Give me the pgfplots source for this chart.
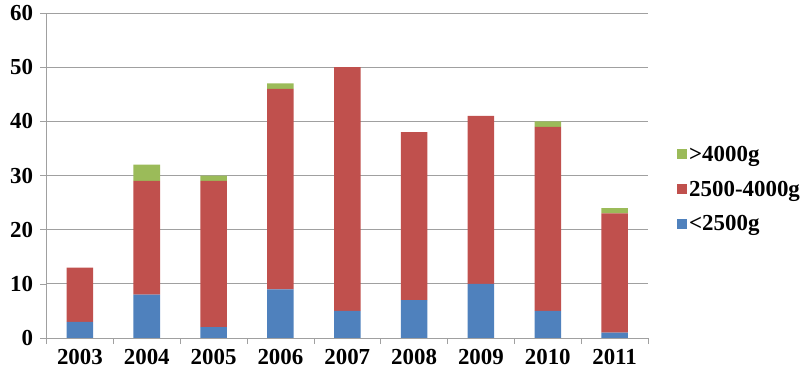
\documentclass[border=0pt]{standalone}
\usepackage{pgfplots}
\pgfplotsset{compat=1.18}
\usepackage{fontspec}
\setmainfont{Liberation Serif}
\definecolor{cblue}{HTML}{4F81BD}
\definecolor{cred}{HTML}{C0504D}
\definecolor{cgreen}{HTML}{9BBB59}
\definecolor{cgrid}{HTML}{A0A0A0}
\begin{document}
\begin{tikzpicture}
\begin{axis}[
  scale only axis,
  width=601.5bp, height=325bp,
  ybar stacked,
  bar width=26.5bp,
  xmin=-0.5, xmax=8.5,
  ymin=0, ymax=60,
  ytick={0,10,...,60},
  xtick={0,...,8},
  xticklabels={2003,2004,2005,2006,2007,2008,2009,2010,2011},
  minor xtick={-0.5,0.5,...,8.5},
  major x tick style={draw=none},
  minor tick length=6bp,
  major tick length=6bp,
  tick align=outside,
  x axis line style={draw=cgrid},
  axis y line*=left,
  axis x line*=bottom,
  y axis line style={draw=cgrid},
  every tick/.style={cgrid},
  ymajorgrids,
  grid style={cgrid, line width=0.8pt},
  /pgf/number format/assume math mode=true,
  ticklabel style={font=\fontsize{23}{27}\selectfont\bfseries},
  xticklabel style={yshift=-2bp},
  yticklabel style={xshift=-4bp},
  legend style={at={(1,0.458)}, anchor=west, xshift=26bp, draw=none, fill=none,
    font=\fontsize{23}{27}\selectfont\bfseries, row sep=14bp},
  legend cell align=left,
  reverse legend,
  legend image code/.code={\fill[#1] (0bp,-5bp) rectangle (10bp,5bp);},
]
\addplot[fill=cblue, draw=none] coordinates {(0,3) (1,8) (2,2) (3,9) (4,5) (5,7) (6,10) (7,5) (8,1)};
\addplot[fill=cred, draw=none] coordinates {(0,10) (1,21) (2,27) (3,37) (4,45) (5,31) (6,31) (7,34) (8,22)};
\addplot[fill=cgreen, draw=none] coordinates {(0,0) (1,3) (2,1) (3,1) (4,0) (5,0) (6,0) (7,1) (8,1)};
\legend{{<2500g},{2500-4000g},{>4000g}}
\end{axis}
\pgfresetboundingbox
\path[use as bounding box] (current axis.south west) ++(-46.5bp,-43bp) rectangle ++(800bp,381bp);
\end{tikzpicture}
\end{document}
